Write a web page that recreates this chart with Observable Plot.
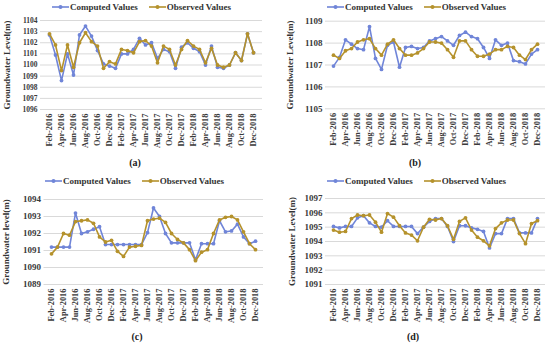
<!DOCTYPE html>
<html><head><meta charset="utf-8">
<script src="https://cdn.jsdelivr.net/npm/d3@7"></script>
<script src="https://cdn.jsdelivr.net/npm/@observablehq/plot@0.6"></script>
<style>
body{margin:0;background:#fff;}
#root{position:relative;width:550px;height:348px;font-family:"Liberation Serif","Times New Roman",serif;color:#333;}
.panel{position:absolute;width:275px;height:174px;}
.legend{position:absolute;top:0;height:14px;display:flex;align-items:center;font-size:9px;font-weight:bold;color:#333;white-space:nowrap;z-index:2;}
.legend .item{display:flex;align-items:center;margin-right:11px;}
.legend svg{margin-right:1px;}
.cap{position:absolute;top:157px;font-size:10px;font-weight:bold;width:30px;text-align:center;color:#222;}
</style>
</head><body>
<div id="root"></div>
<script>
const months = ["Feb-2016","Mar-2016","Apr-2016","May-2016","Jun-2016","Jul-2016","Aug-2016","Sep-2016","Oct-2016","Nov-2016","Dec-2016",
"Jan-2017","Feb-2017","Mar-2017","Apr-2017","May-2017","Jun-2017","Jul-2017","Aug-2017","Sep-2017","Oct-2017","Nov-2017","Dec-2017",
"Jan-2018","Feb-2018","Mar-2018","Apr-2018","May-2018","Jun-2018","Jul-2018","Aug-2018","Sep-2018","Oct-2018","Nov-2018","Dec-2018"];
const seriesNames = ["Computed Values","Observed Values"];

const computedA = [1102.7,1100.9,1098.6,1101.0,1099.1,1102.7,1103.5,1102.6,1101.3,1100.1,1099.9,1099.7,1101.0,1101.0,1101.4,1102.4,1101.8,1102.0,1100.6,1101.4,1101.2,1099.7,1101.6,1102.0,1101.5,1101.2,1100.0,1101.7,1099.8,1099.7,1100.0,1101.1,1100.4,1102.8,1101.1];
const observedA = [1102.8,1101.8,1099.5,1101.8,1099.8,1102.0,1102.9,1102.1,1101.7,1099.7,1100.3,1100.1,1101.4,1101.3,1101.1,1102.1,1102.2,1101.7,1100.2,1101.7,1101.4,1100.0,1101.4,1102.2,1101.7,1101.4,1100.2,1101.5,1100.0,1099.8,1100.0,1101.1,1100.4,1102.8,1101.1];
const ticksA = [1096,1097,1098,1099,1100,1101,1102,1103,1104];

const computedB = [1106.95,1107.35,1108.15,1107.95,1107.75,1107.7,1108.75,1107.3,1106.8,1107.9,1108.05,1106.9,1107.8,1107.85,1107.75,1107.8,1108.1,1108.2,1108.3,1108.1,1107.9,1108.35,1108.5,1108.3,1108.2,1107.8,1107.3,1108.15,1107.9,1108.0,1107.2,1107.15,1107.05,1107.5,1107.7];
const observedB = [1107.45,1107.3,1107.65,1107.75,1108.05,1108.15,1108.2,1107.75,1107.45,1107.95,1108.15,1107.75,1107.45,1107.45,1107.55,1107.75,1108.05,1108.05,1108.0,1107.7,1107.35,1108.1,1108.1,1107.7,1107.4,1107.4,1107.5,1107.7,1107.7,1107.85,1107.8,1107.45,1107.25,1107.7,1107.95];
const ticksB = [1105,1106,1107,1108,1109];

const computedC = [1091.2,1091.2,1091.2,1091.2,1093.2,1092.0,1092.1,1092.25,1092.4,1091.35,1091.35,1091.35,1091.35,1091.35,1091.35,1091.35,1092.05,1093.5,1093.0,1092.0,1091.45,1091.45,1091.45,1091.45,1090.45,1091.4,1091.4,1091.4,1092.75,1092.1,1092.15,1092.55,1091.8,1091.4,1091.55];
const observedC = [1090.8,1091.2,1092.0,1091.9,1092.7,1092.75,1092.8,1092.6,1091.8,1091.5,1091.6,1090.95,1090.65,1091.2,1091.25,1091.3,1092.75,1092.85,1092.9,1092.65,1092.0,1091.65,1091.45,1091.05,1090.4,1090.9,1091.05,1092.0,1092.8,1092.95,1093.0,1092.8,1092.1,1091.4,1091.05];
const ticksC = [1089,1090,1091,1092,1093,1094];

const computedD = [1095.05,1094.95,1095.05,1095.05,1095.65,1095.8,1095.3,1095.05,1095.0,1095.45,1095.05,1095.05,1095.05,1095.05,1094.55,1095.0,1095.4,1095.6,1095.6,1095.05,1094.0,1095.1,1095.1,1094.95,1094.85,1094.7,1093.55,1094.55,1094.55,1095.6,1095.6,1094.6,1094.6,1094.6,1095.6];
const observedD = [1094.8,1094.65,1094.7,1095.6,1095.85,1095.8,1095.85,1095.35,1094.65,1095.95,1095.7,1095.1,1094.6,1094.45,1094.05,1095.0,1095.55,1095.5,1095.6,1095.1,1094.15,1095.4,1095.65,1094.8,1094.3,1094.05,1093.7,1094.9,1095.3,1095.5,1095.5,1094.55,1093.85,1095.25,1095.45];
const ticksD = [1091,1092,1093,1094,1095,1096,1097];

const BLUE = "#7085d8";
const OLIVE = "#b5922c";
const FONT = "'Liberation Serif','Times New Roman',serif";

const panels = [
  {id:"(a)", left:0, top:0, computed:computedA, observed:observedA, ticks:ticksA, title:"Groundwater Level(m)",
   ml:40, mr:13, mt:20, mb:46, yfs:7.5, tdx:-33, legLeft:52, capX:135},
  {id:"(b)", left:275, top:0, computed:computedB, observed:observedB, ticks:ticksB, title:"Groundwater Level(m)",
   ml:50, mr:5, mt:20.7, mb:46.7, yfs:9, tdx:-35, legLeft:52, capX:140},
  {id:"(c)", left:0, top:174, computed:computedC, observed:observedC, ticks:ticksC, title:"Groundwater level(m)",
   ml:43.5, mr:12, mt:25, mb:45, yfs:9, tdx:-38, legLeft:45, capX:137},
  {id:"(d)", left:275, top:174, computed:computedD, observed:observedD, ticks:ticksD, title:"Groundwater Level(m)",
   ml:50, mr:5, mt:24, mb:45, yfs:9, tdx:-33, legLeft:52, capX:138}
];

function swatch(color){
  return `<svg width="17" height="6"><line x1="0" y1="3" x2="17" y2="3" stroke="${color}" stroke-width="1.6"/><circle cx="8.5" cy="3" r="2" fill="${color}"/></svg>`;
}

const root = document.getElementById("root");
for (const p of panels) {
  const div = document.createElement("div");
  div.className = "panel";
  div.style.left = p.left + "px";
  div.style.top = p.top + "px";

  const data = months.map((m, i) => ({m, c: p.computed[i], o: p.observed[i]}));
  const chart = Plot.plot({
    width: 275, height: 155,
    marginLeft: p.ml, marginRight: p.mr, marginTop: p.mt, marginBottom: p.mb,
    style: {fontFamily: FONT, fontSize: "8.4px", fontWeight: "bold", color: "#3a3a3a", background: "transparent"},
    x: {type: "point", domain: months, padding: 0.5, label: null},
    y: {domain: [p.ticks[0], p.ticks[p.ticks.length - 1]], label: null},
    marks: [
      Plot.gridY(p.ticks, {stroke: "#d9d9d9", strokeOpacity: 1, strokeWidth: 1}),
      Plot.axisY(p.ticks, {tickSize: 0, tickPadding: 3, fontSize: p.yfs, label: null, tickFormat: d => String(d)}),
      Plot.axisX(months.filter((d, i) => i % 2 === 0), {tickSize: 0, tickRotate: -90, tickPadding: 4, label: null}),
      Plot.line(data, {x: "m", y: "c", stroke: BLUE, strokeWidth: 1.6}),
      Plot.dot(data, {x: "m", y: "c", fill: BLUE, r: 1.9}),
      Plot.line(data, {x: "m", y: "o", stroke: OLIVE, strokeWidth: 1.6}),
      Plot.dot(data, {x: "m", y: "o", fill: OLIVE, r: 1.9}),
      Plot.text([p.title], {frameAnchor: "left", textAnchor: "middle", dx: p.tdx, rotate: -90, fontSize: 9, fontWeight: "bold", fill: "#333"})
    ]
  });
  chart.style.position = "absolute";
  chart.style.top = "0px";
  chart.style.left = "0px";
  div.appendChild(chart);

  const leg = document.createElement("div");
  leg.className = "legend";
  leg.style.left = p.legLeft + "px";
  leg.innerHTML = `<div class="item">${swatch(BLUE)}<span>${seriesNames[0]}</span></div><div class="item">${swatch(OLIVE)}<span>${seriesNames[1]}</span></div>`;
  div.appendChild(leg);

  const cap = document.createElement("div");
  cap.className = "cap";
  cap.style.left = (p.capX - 15) + "px";
  cap.textContent = p.id;
  div.appendChild(cap);
  root.appendChild(div);
}
</script>
</body></html>
